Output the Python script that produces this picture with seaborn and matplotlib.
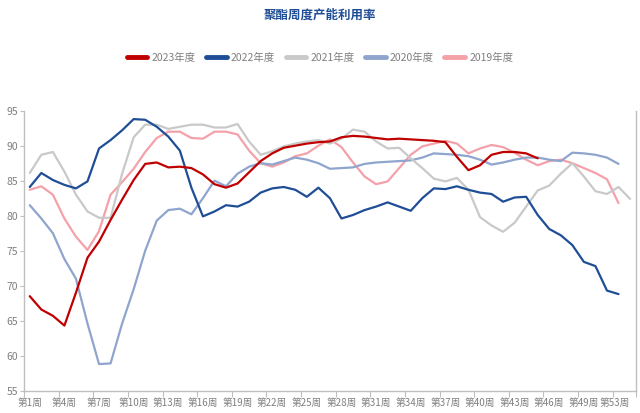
import numpy as np
import pandas as pd
import matplotlib
matplotlib.use('Agg')
import matplotlib.pyplot as plt
from matplotlib.lines import Line2D
import seaborn as sns

# 周度产能利用率（%）
years = ['2023年度', '2022年度', '2021年度', '2020年度', '2019年度']
colors = ['#c00000', '#1f4e96', '#c9c9c9', '#8fa5cd', '#f4a1a9']

y2023 = [68.5, 66.6, 65.7, 64.3, 69.0, 74.0, 76.3, 79.4, 82.3, 85.1,
         87.4, 87.6, 86.9, 87.0, 86.8, 85.9, 84.5, 84.0, 84.6, 86.2,
         87.8, 88.9, 89.7, 90.0, 90.3, 90.5, 90.6, 91.2, 91.4, 91.3,
         91.1, 90.9, 91.0, 90.9, 90.8, 90.7, 90.5, 88.4, 86.5, 87.2,
         88.7, 89.1, 89.1, 88.9, 88.2]
y2022 = [84.1, 86.1, 85.1, 84.4, 83.9, 84.9, 89.6, 90.8, 92.2, 93.8,
         93.7, 92.7, 91.3, 89.3, 84.0, 79.9, 80.6, 81.5, 81.3, 82.0,
         83.3, 83.9, 84.1, 83.7, 82.7, 84.0, 82.5, 79.6, 80.1, 80.8,
         81.3, 81.9, 81.3, 80.7, 82.5, 83.9, 83.8, 84.2, 83.7, 83.3,
         83.1, 82.0, 82.6, 82.7, 80.1, 78.1, 77.2, 75.8, 73.4, 72.8,
         69.3, 68.8]
y2021 = [86.1, 88.7, 89.1, 86.3, 83.0, 80.6, 79.7, 79.7, 86.0, 91.2,
         93.0, 93.0, 92.4, 92.7, 93.0, 93.0, 92.6, 92.6, 93.1, 90.6,
         88.7, 89.2, 89.9, 90.3, 90.6, 90.8, 90.3, 91.0, 92.3, 92.0,
         90.6, 89.6, 89.7, 88.2, 86.8, 85.3, 84.9, 85.4, 83.7, 79.8,
         78.6, 77.7, 79.0, 81.3, 83.6, 84.3, 86.0, 87.5, 85.6, 83.5,
         83.1, 84.1, 82.4]
y2020 = [81.5, 79.6, 77.5, 73.8, 71.0, 64.6, 58.8, 58.9, 64.6, 69.5,
         75.0, 79.3, 80.8, 81.0, 80.2, 82.5, 85.0, 84.2, 86.0, 87.0,
         87.5, 87.3, 87.8, 88.3, 88.0, 87.5, 86.7, 86.8, 86.9, 87.4,
         87.6, 87.7, 87.8, 87.9, 88.3, 88.9, 88.8, 88.7, 88.5, 88.0,
         87.3, 87.6, 88.0, 88.3, 88.3, 88.0, 87.8, 89.0, 88.9, 88.7,
         88.3, 87.4]
y2019 = [83.7, 84.2, 83.0, 79.6, 77.0, 75.1, 77.8, 83.0, 84.8, 86.7,
         89.1, 91.1, 92.0, 92.0, 91.1, 91.0, 92.0, 92.0, 91.6, 89.3,
         87.5, 87.0, 87.6, 88.5, 88.9, 90.0, 90.9, 89.8, 87.6, 85.6,
         84.5, 84.9, 86.8, 88.7, 89.9, 90.3, 90.7, 90.3, 88.9, 89.6,
         90.1, 89.8, 89.0, 88.0, 87.2, 87.8, 88.0, 87.5, 86.8, 86.1,
         85.2, 81.8]

label_weeks = [1, 4, 7, 10, 13, 16, 19, 22, 25, 28, 31, 34, 37, 40, 43, 46, 49, 53]
yticks = [55, 60, 65, 70, 75, 80, 85, 90, 95]

series = [y2023, y2022, y2021, y2020, y2019]
frames = []
for name, vals in zip(years, series):
    frames.append(pd.DataFrame({'week': np.arange(1, len(vals) + 1),
                                'value': vals, 'year': name}))
df = pd.concat(frames, ignore_index=True)

sns.set_style('white')
plt.rcParams['font.family'] = ['Noto Sans CJK SC', 'DejaVu Sans']

fig = plt.figure(figsize=(6.4, 4.13), dpi=100)
ax = fig.add_axes([0.0375, 0.054, 0.956, 0.678])

# older years first so 2023 sits on top
order = years[::-1]
pal = dict(zip(years, colors))
sns.lineplot(data=df, x='week', y='value', hue='year', hue_order=order,
             palette=pal, linewidth=1.6, legend=False, ax=ax, zorder=3)
for ln in ax.lines:
    ln.set_solid_joinstyle('round')

ax.set_xlim(0.5, 53.5)
ax.set_ylim(55, 95)
ax.set_xlabel('')
ax.set_ylabel('')

grey = '#bfbfbf'
for s in ['left', 'bottom', 'right']:
    ax.spines[s].set_color(grey)
    ax.spines[s].set_linewidth(1.0)
ax.spines['top'].set_visible(False)

ax.set_yticks(yticks)
ax.set_yticklabels([str(v) for v in yticks], fontsize=7.5, color='#7f7f7f')
ax.tick_params(axis='y', length=3, width=0.8, color=grey, pad=1, left=True)

# tick marks between categories, labels on the category centres
ax.set_xticks(list(np.arange(0.5, 52, 3)) + [53.5])
ax.set_xticklabels([])
ax.tick_params(axis='x', which='major', length=4, width=0.8, color=grey, bottom=True)
ax.set_xticks(label_weeks, minor=True)
labs = ax.set_xticklabels(['第%d周' % w for w in label_weeks], minor=True,
                          fontsize=7, color='#7f7f7f')
ax.tick_params(axis='x', which='minor', length=0, pad=5)
labs[-1].set_horizontalalignment('right')
labs[-1].set_x(53.75)

fig.text(0.5, 1 - 15 / 413, '聚酯周度产能利用率', ha='center', va='center',
         fontsize=9, fontweight='bold', color='#1f4e96')

handles = [Line2D([0], [0], color=c, lw=3.5, solid_capstyle='round') for c in colors]
fig.legend(handles, years, loc='center', bbox_to_anchor=(0.5, 1 - 58 / 413),
           ncol=5, frameon=False, fontsize=7.5, handlelength=2.0,
           handletextpad=0.4, columnspacing=1.0, labelcolor='#7f7f7f')

fig.savefig('out.png', dpi=100)
